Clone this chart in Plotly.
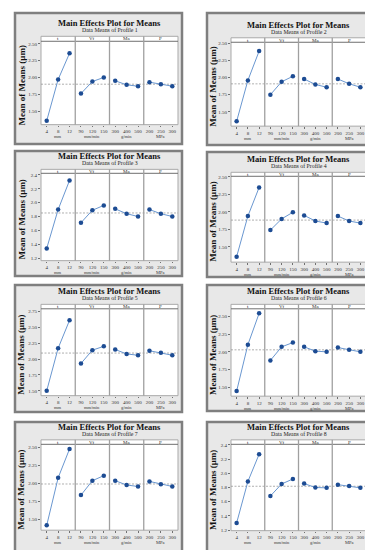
import plotly.graph_objects as go

W, H = 373, 550

# ---------------- data ----------------
factors = ["t", "Vf", "Ma", "P"]
levels = [["4", "8", "12"], ["90", "120", "150"], ["300", "400", "500"], ["200", "250", "300"]]
units = ["mm", "mm/min", "g/min", "MPa"]
profiles = ["Profile 1", "Profile 2", "Profile 3", "Profile 4",
            "Profile 5", "Profile 6", "Profile 7", "Profile 8"]

t_means = [
    [1.355, 1.97, 2.36],
    [1.36, 1.96, 2.39],
    [1.34, 1.90, 2.32],
    [1.36, 1.94, 2.35],
    [1.50, 2.17, 2.61],
    [1.45, 2.10, 2.54],
    [1.42, 2.08, 2.48],
    [1.30, 1.885, 2.27],
]
vf_means = [
    [1.76, 1.94, 2.00],
    [1.75, 1.94, 2.02],
    [1.71, 1.89, 1.96],
    [1.74, 1.90, 1.995],
    [1.93, 2.14, 2.20],
    [1.88, 2.07, 2.13],
    [1.84, 2.04, 2.11],
    [1.68, 1.85, 1.92],
]
ma_means = [
    [1.95, 1.89, 1.87],
    [1.98, 1.90, 1.86],
    [1.91, 1.84, 1.80],
    [1.95, 1.87, 1.84],
    [2.15, 2.08, 2.06],
    [2.07, 2.01, 2.00],
    [2.04, 1.98, 1.96],
    [1.855, 1.80, 1.795],
]
p_means = [
    [1.93, 1.90, 1.87],
    [1.98, 1.91, 1.86],
    [1.90, 1.84, 1.80],
    [1.94, 1.87, 1.84],
    [2.13, 2.10, 2.06],
    [2.06, 2.03, 2.00],
    [2.03, 1.99, 1.96],
    [1.84, 1.82, 1.795],
]

ytick_a = ["1.50", "1.75", "2.00", "2.25", "2.50"]
ytick_b = ["1.2", "1.4", "1.6", "1.8", "2.0", "2.2", "2.4"]
ytick_c = ["1.50", "1.75", "2.00", "2.25", "2.50", "2.75"]
ytick_labels = [ytick_a, ytick_a, ytick_b, ytick_a, ytick_c, ytick_a, ytick_a, ytick_b]

# ---------------- layout geometry (px) ----------------
y_ranges = [[1.297, 2.539], [1.289, 2.519], [1.163, 2.423], [1.282, 2.509],
            [1.423, 2.791], [1.379, 2.603], [1.353, 2.545], [1.191, 2.409]]

cols = [dict(bx0=7, bx1=174, px0=33, px1=170),
        dict(bx0=199, bx1=361, px0=223, px1=358)]
# box_top, box_bottom, strip_top, strip_bot, plot_bot
rows = [
    (3, 135, 26.5, 31.5, 115.5),
    (3, 136, 28, 32.5, 117),
    (142, 268, 160.5, 164.5, 252.5),
    (143, 269, 163.5, 167.5, 254),
    (277, 405, 296.5, 301, 388.5),
    (277, 404, 296.5, 301, 389),
    (415, 547, 433, 437.5, 524),
    (415, 546, 433, 437.5, 524.5),
]

SERIF = "Liberation Serif"


def fx(x):
    return x / W


def fy(y):
    return 1 - y / H


fig = go.Figure()
shapes = []
annots = []
axes = {}

all_series = [t_means, vf_means, ma_means, p_means]

for p in range(8):
    c = cols[p % 2]
    bt, bb, st, sb, pb = rows[p]
    sy = st - 6.2
    ty = sy - 7
    uy = pb + 12
    bx0, bx1, px0, px1 = c["bx0"], c["bx1"], c["px0"], c["px1"]
    yid = "y" if p == 0 else f"y{p + 1}"
    ykey = "yaxis" if p == 0 else f"yaxis{p + 1}"

    # panel background + border
    shapes.append(dict(type="rect", xref="paper", yref="paper",
                       x0=fx(bx0), x1=fx(bx1), y0=fy(bb), y1=fy(bt),
                       fillcolor="#e8e8e8", line=dict(color="#7f7f7f", width=2.5),
                       layer="below"))
    # white plot area (with strip)
    shapes.append(dict(type="rect", xref="paper", yref="paper",
                       x0=fx(px0), x1=fx(px1), y0=fy(pb), y1=fy(st),
                       fillcolor="#ffffff", line=dict(color="#a9a9a9", width=1),
                       layer="below"))
    # strip bottom line
    shapes.append(dict(type="line", xref="paper", yref="paper",
                       x0=fx(px0), x1=fx(px1), y0=fy(sb), y1=fy(sb),
                       line=dict(color="#6f6f6f", width=1), layer="below"))

    vals = [s[p] for s in all_series]
    grand = sum(sum(v) for v in vals) / 12.0
    # mean reference line
    shapes.append(dict(type="line", xref="paper", yref=yid,
                       x0=fx(px0), x1=fx(px1), y0=grand, y1=grand,
                       line=dict(color="#8c8c8c", width=0.7, dash="2px,1.5px"),
                       layer="below"))

    fw = (px1 - px0) / 4.0
    for f in range(4):
        k = p * 4 + f + 1
        xid = "x" if k == 1 else f"x{k}"
        xkey = "xaxis" if k == 1 else f"xaxis{k}"
        f0 = px0 + f * fw
        f1 = f0 + fw
        if f > 0:
            shapes.append(dict(type="line", xref="paper", yref="paper",
                               x0=fx(f0), x1=fx(f0), y0=fy(pb), y1=fy(st),
                               line=dict(color="#a0a0a0", width=1.3), layer="below"))
        axes[xkey] = dict(domain=[fx(f0), fx(f1)], anchor=yid, type="category",
                          range=[-0.5, 2.5], showgrid=False, zeroline=False,
                          showline=False, ticks="outside", ticklen=1.5,
                          tickcolor="#707070", tickwidth=0.6,
                          tickfont=dict(family=SERIF, size=5, color="#333333"),
                          fixedrange=True)
        fig.add_trace(go.Scatter(
            x=levels[f], y=vals[f], xaxis=xid, yaxis=yid,
            mode="lines+markers",
            line=dict(color="#6a97d0", width=1),
            marker=dict(color="#1d4c93", size=4.5, symbol="circle"),
            showlegend=False, hoverinfo="skip"))
        # strip label
        annots.append(dict(xref="paper", yref="paper", x=fx((f0 + f1) / 2),
                           y=fy((st + sb) / 2), text=factors[f], showarrow=False,
                           font=dict(family=SERIF, size=5, color="#333333"),
                           xanchor="center", yanchor="middle", borderpad=0))
        # unit label
        annots.append(dict(xref="paper", yref="paper", x=fx((f0 + f1) / 2),
                           y=fy(uy), text=units[f], showarrow=False,
                           font=dict(family=SERIF, size=4.5, color="#333333"),
                           xanchor="center", yanchor="middle", borderpad=0))

    tl = ytick_labels[p]
    axes[ykey] = dict(domain=[fy(pb), fy(sb)], anchor="x" if p == 0 else f"x{p * 4 + 1}",
                      range=y_ranges[p], tickvals=[float(v) for v in tl], ticktext=tl,
                      showgrid=False, zeroline=False, showline=False,
                      ticks="outside", ticklen=2, tickcolor="#707070", tickwidth=0.6,
                      tickfont=dict(family=SERIF, size=5, color="#333333"),
                      fixedrange=True)

    # titles
    annots.append(dict(xref="paper", yref="paper", x=fx((px0 + px1) / 2), y=fy(ty),
                       text="<b>Main Effects Plot for Means</b>", showarrow=False,
                       font=dict(family=SERIF, size=8.5, color="#111111"),
                       xanchor="center", yanchor="middle", borderpad=0))
    annots.append(dict(xref="paper", yref="paper", x=fx((px0 + px1) / 2), y=fy(sy),
                       text="Data Means of " + profiles[p], showarrow=False,
                       font=dict(family=SERIF, size=5.8, color="#222222"),
                       xanchor="center", yanchor="middle", borderpad=0))
    annots.append(dict(xref="paper", yref="paper", x=fx(bx0 + 6.5), y=fy((sb + pb) / 2 + 3),
                       text="<b>Mean of Means (μm)</b>", showarrow=False, textangle=-90,
                       font=dict(family=SERIF, size=9, color="#111111"),
                       xanchor="center", yanchor="middle", borderpad=0))

fig.update_layout(
    width=W, height=H,
    margin=dict(l=0, r=0, t=0, b=0),
    paper_bgcolor="#ffffff",
    plot_bgcolor="rgba(0,0,0,0)",
    shapes=shapes,
    annotations=annots,
    showlegend=False,
    **axes,
)

fig.write_html("out.html", config={"displayModeBar": False})
